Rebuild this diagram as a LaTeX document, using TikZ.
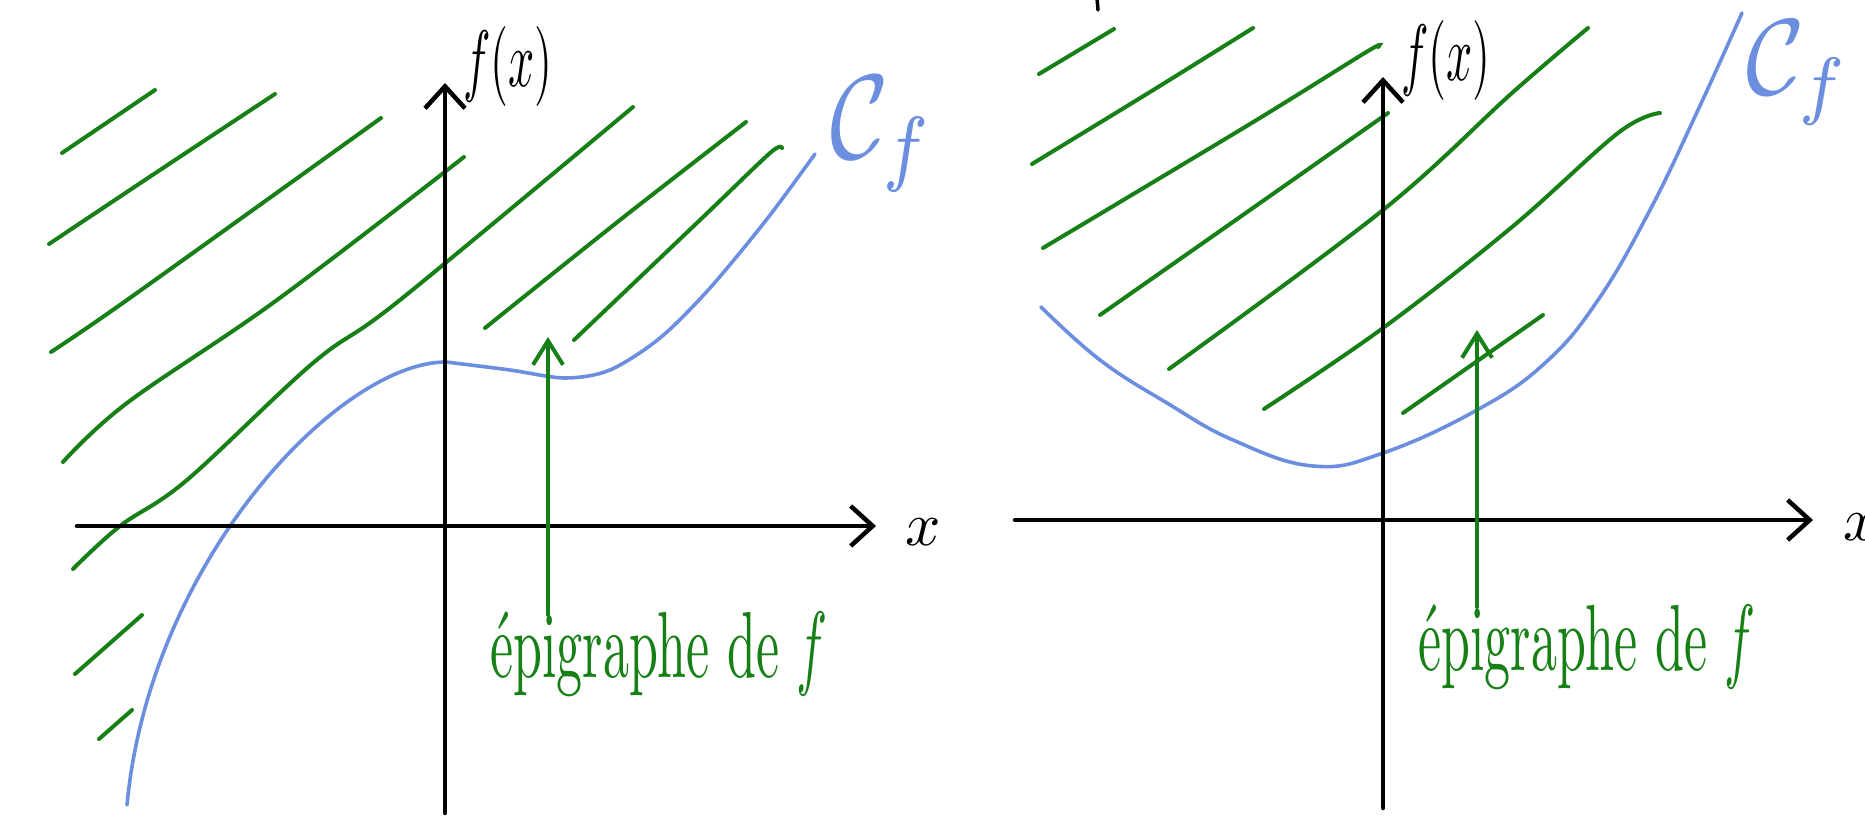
\documentclass[tikz,border=0pt]{standalone}
\usetikzlibrary{arrows.meta}
\definecolor{hgreen}{RGB}{22,128,22}
\definecolor{hblue}{RGB}{108,142,222}
\tikzset{
  axisline/.style={line width=4.5pt, black, line cap=round, -{Straight Barb[length=22pt,width=40pt]}},
  hatch/.style={hgreen, line width=4pt, line cap=round},
  graph/.style={hblue, line width=3.6pt, line cap=round},
  garrow/.style={hgreen, line width=4pt, line cap=round, -{Straight Barb[length=24pt,width=30pt]}},
  blacklbl/.style={inner sep=0pt, text=black},
  greenlbl/.style={inner sep=0pt, text=hgreen},
  bluelbl/.style={inner sep=0pt, text=hblue},
}
\begin{document}
\begin{tikzpicture}[x=1pt,y=-1pt]
\useasboundingbox (0,0) rectangle (1865,819);
\clip (0,0) rectangle (1865,819);

% ================= LEFT PANEL =================
\coordinate (xLs) at (77,526);
\coordinate (xLe) at (876,526);
\coordinate (yLs) at (445,813);
\coordinate (yLe) at (445,83);
% hatching
\draw[hatch] (62,153) -- (155,90);
\draw[hatch] plot[smooth] coordinates {(49,244) (160,170) (275,94)};
\draw[hatch] plot[smooth] coordinates {(51,352) (127,300) (381,118)};
\draw[hatch] plot[smooth, tension=0.6] coordinates {(63,462) (127,403) (277,300) (464,157)};
\draw[hatch] plot[smooth, tension=0.6] coordinates {(73,569) (120,526) (187,480) (313,363) (400,300) (633,107)};
\draw[hatch] plot[smooth] coordinates {(485,328) (620,220) (746,122)};
\draw[hatch] plot[smooth] coordinates {(574,340) (700,220) (770,153) (782,148)};
\draw[hatch] (75,674) -- (142,615);
\draw[hatch] (99,739) -- (132,710);
% curve
\coordinate (cL0) at (127,805);
\coordinate (cL1) at (446,362);
\draw[graph] (cL0) .. controls (150,560) and (340,362) .. (cL1);
\draw[graph] plot[smooth] coordinates {(446,362) (510,370) (565,378) (610,370) (660,338) (710,288) (767,219) (815,154)};
% axes
\draw[axisline] (xLs) -- (xLe);
\draw[axisline] (yLs) -- (yLe);
% labels
\node[blacklbl, anchor=base west] (fxL) at (463,86) {\scalebox{4.6}[8]{$f(x)$}};
\node[blacklbl, anchor=base] (xlabL) at (923,545) {\scalebox{6.2}{$x$}};
\node[bluelbl, anchor=base west] (CfL) at (830,158) {\scalebox{10}[12]{$\mathcal{C}_f$}};
\node[greenlbl, anchor=base west] (epiL) at (490,677) {\scalebox{5.2}[9.4]{épigraphe de $f$}};
\coordinate (aLs) at (548,615);
\coordinate (aLe) at (548,337);
\draw[garrow] (aLs) -- (aLe);

% ================= RIGHT PANEL =================
\coordinate (xRs) at (1015,520);
\coordinate (xRe) at (1813,520);
\coordinate (yRs) at (1383,808);
\coordinate (yRe) at (1383,77);
% hatching
\draw[hatch] (1039,74) -- (1114,29);
\draw[hatch] plot[smooth] coordinates {(1032,164) (1150,92) (1253,28)};
\draw[hatch] plot[smooth] coordinates {(1043,248) (1250,124) (1368,51) (1378,47)};
\draw[hatch] plot[smooth] coordinates {(1100,315) (1250,210) (1388,113)};
\draw[hatch] plot[smooth, tension=0.6] coordinates {(1169,369) (1383,210) (1512,93) (1588,28)};
\draw[hatch] plot[smooth, tension=0.6] coordinates {(1264,409) (1383,328) (1512,227) (1618,133) (1660,113)};
\draw[hatch] (1403,413) -- (1543,315);
% curve
\draw[graph] plot[smooth, tension=0.7] coordinates {(1041,307) (1100,360) (1167,403) (1233,440) (1313,466) (1383,453) (1477,410) (1545,363) (1598,300) (1650,210) (1698,110) (1742,13)};
% axes
\draw[axisline] (xRs) -- (xRe);
\draw[axisline] (yRs) -- (yRe);
% labels
\node[blacklbl, anchor=base west] (fxR) at (1401,80) {\scalebox{4.6}[8]{$f(x)$}};
\node[blacklbl, anchor=base west] (xlabR) at (1843,540) {\scalebox{6.2}{$x$}};
\node[bluelbl, anchor=base west] (CfR) at (1746,94) {\scalebox{10}[10.8]{$\mathcal{C}_f$}};
\node[greenlbl, anchor=base west] (epiR) at (1418,670) {\scalebox{5.2}[9.4]{épigraphe de $f$}};
\coordinate (aRs) at (1477,607);
\coordinate (aRe) at (1477,330);
\draw[garrow] (aRs) -- (aRe);

% small cut-off stroke at the top
\coordinate (tk0) at (1097,-2);
\coordinate (tk1) at (1098,10);
\draw[line width=3.5pt, black, line cap=round] (tk0) -- (tk1);
\end{tikzpicture}
\end{document}
